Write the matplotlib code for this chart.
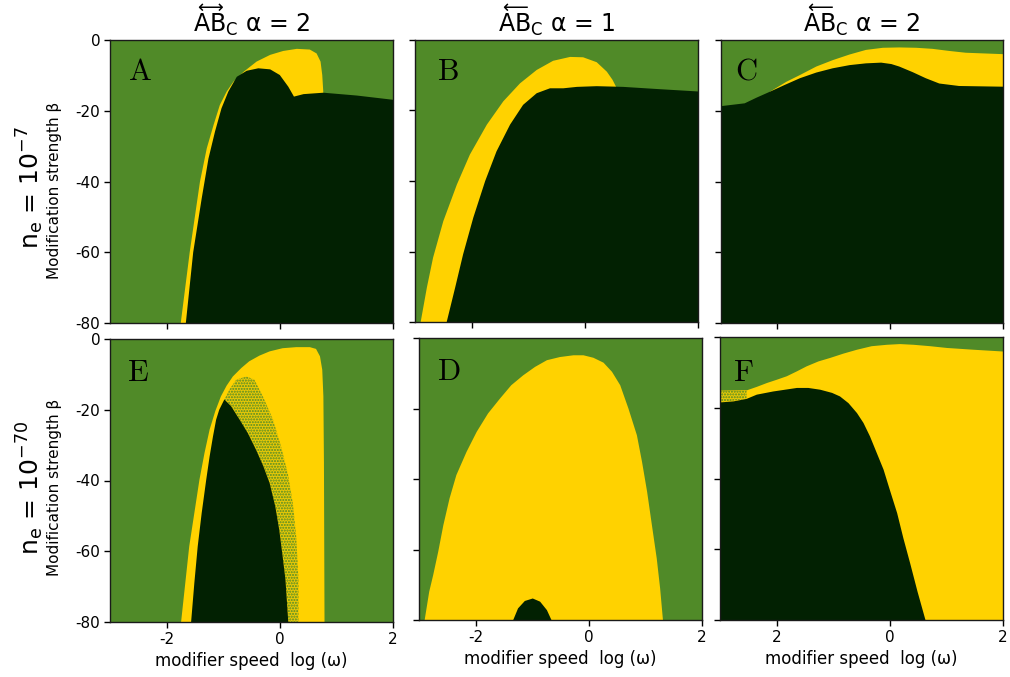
import matplotlib
matplotlib.use("Agg")
import matplotlib.pyplot as plt
from matplotlib.transforms import IdentityTransform

plt.rcParams['font.family'] = ['DejaVu Sans']
plt.rcParams['mathtext.fontset'] = 'dejavusans'
plt.rcParams['mathtext.default'] = 'regular'
plt.rcParams['axes.unicode_minus'] = False
plt.rcParams['hatch.linewidth'] = 1.0

GREEN = "#508a28"
YELLOW = "#ffd200"
DARK = "#022102"

# column titles / row labels
col_titles = ["AB$_C$ α = 2", "AB$_C$ α = 1", "AB$_C$ α = 2"]
col_arrows = [r"$\longleftrightarrow$", r"$\longleftarrow$", r"$\longleftarrow$"]
row_labels = ["$n_e$ = $10^{-7}$", "$n_e$ = $10^{-70}$"]
xticks = [-2, 0, 2]
xticklabels = ["-2", "0", "2"]
xticklabels_right = ["2", "0", "2"]
yticks = [0, -20, -40, -60, -80]

# ---- panel A (n_e=1e-7, <-> alpha=2)
a_yel_x = [-1.75, -1.59, -1.41, -1.29, -1.17, -1.06, -0.94, -0.82, -0.64, -0.41, -0.17, 0.06,
           0.30, 0.53, 0.65, 0.72, 0.75, 0.77, 0.77]
a_yel_y = [-80, -59.8, -40.0, -30.6, -24.0, -18.4, -14.6, -11.8, -9.0, -6.1, -4.2, -3.1,
           -2.5, -2.7, -3.8, -6.1, -9.9, -15.1, -80]
a_dark_x = [-1.66, -1.53, -1.38, -1.26, -1.145, -1.03, -0.91, -0.76, -0.585, -0.38, -0.17, 0.0,
            0.15, 0.25, 0.42, 0.77, 1.36, 2.0, 2.0]
a_dark_y = [-80, -60, -44.8, -33.5, -25.9, -19.3, -14.6, -10.4, -8.7, -8.0, -8.3, -9.9,
            -13.2, -16.0, -15.3, -14.9, -15.7, -16.9, -80]

# ---- panel B (n_e=1e-7, <- alpha=1)
b_yel_x = [-2.9, -2.79, -2.68, -2.5, -2.26, -2.03, -1.73, -1.44, -1.145, -0.85, -0.56, -0.26,
           -0.03, 0.21, 0.39, 0.49, 0.55, 0.55]
b_yel_y = [-80, -70.2, -61.7, -51.4, -41.0, -32.5, -24.0, -17.4, -12.3, -8.5, -5.9, -4.8,
           -4.9, -6.3, -9.0, -11.3, -13.2, -80]
b_dark_x = [-2.44, -2.29, -2.15, -1.97, -1.76, -1.56, -1.32, -1.09, -0.85, -0.615, -0.38, -0.14,
            0.21, 0.68, 1.27, 2.0, 2.0]
b_dark_y = [-80, -70.2, -60.8, -50.4, -40.0, -31.6, -24.0, -18.4, -15.1, -13.7, -13.7, -13.3,
            -13.1, -13.3, -13.9, -14.6, -80]

# ---- panel C (n_e=1e-7, <- alpha=2)
c_yel_x = [-2.13, -1.84, -1.6, -1.31, -1.02, -0.72, -0.43, -0.13, 0.16, 0.46, 0.75, 1.05, 1.34,
           2.0, 2.0, -2.13]
c_yel_y = [-14.6, -11.8, -9.9, -7.5, -5.7, -4.1, -2.8, -2.2, -2.1, -2.2, -2.5, -3.1, -3.6,
           -4.0, -80, -80]
c_dark_x = [-3.0, -2.58, -2.37, -2.13, -1.87, -1.6, -1.31, -1.02, -0.72, -0.43, -0.16, 0.02, 0.16,
            0.4, 0.63, 0.87, 1.22, 2.0, 2.0, -3.0]
c_dark_y = [-18.7, -17.9, -16.3, -14.6, -12.7, -10.8, -9.2, -8.0, -7.1, -6.6, -6.4, -6.8, -7.5,
            -9.1, -10.8, -12.3, -13.0, -13.2, -80, -80]

# ---- panel E (n_e=1e-70, <-> alpha=2)
e_yel_x = [-1.744, -1.67, -1.6, -1.51, -1.42, -1.33, -1.24, -1.14, -1.04, -0.94, -0.83, -0.68,
           -0.54, -0.36, -0.18, 0.05, 0.29, 0.53, 0.64, 0.71, 0.75, 0.77, 0.78, 0.79]
e_yel_y = [-80, -69.0, -58.6, -49.2, -39.8, -32.2, -25.6, -20.4, -16.2, -13.2, -10.6, -8.2,
           -6.3, -4.7, -3.5, -2.6, -2.3, -2.3, -2.8, -4.9, -8.7, -16.2, -35.0, -80]
e_mix_x = [-0.98, -0.89, -0.77, -0.59, -0.45, -0.30, -0.12, 0.02, 0.14, 0.23, 0.29, 0.33, 0.33,
           0.15, 0.10, 0.05, -0.01, -0.08, -0.18, -0.29, -0.42, -0.565, -0.71, -0.86]
e_mix_y = [-17.1, -14.3, -11.5, -10.6, -11.5, -16.2, -22.8, -30.3, -37.9, -46.4, -55.8, -68.0, -80,
           -80, -68.0, -61.4, -53.9, -47.3, -40.7, -36.0, -31.3, -26.6, -22.8, -19.0]
e_dark_x = [-1.567, -1.51, -1.45, -1.38, -1.30, -1.24, -1.18, -1.125, -1.07, -0.98, -0.86, -0.71,
            -0.565, -0.42, -0.29, -0.18, -0.08, -0.01, 0.05, 0.10, 0.15]
e_dark_y = [-80, -69.0, -58.6, -49.2, -39.8, -33.2, -27.5, -22.8, -20.0, -17.1, -19.0, -22.8,
            -26.6, -31.3, -36.0, -40.7, -47.3, -53.9, -61.4, -68.0, -80]

# ---- panel D (n_e=1e-70, <- alpha=1)
d_yel_x = [-2.9, -2.82, -2.75, -2.66, -2.57, -2.46, -2.34, -2.16, -1.98, -1.78, -1.57, -1.37,
           -1.16, -0.95, -0.74, -0.51, -0.27, -0.095, 0.08, 0.26, 0.41, 0.555, 0.70, 0.85, 0.94,
           1.03, 1.115, 1.2, 1.26, 1.31]
d_yel_y = [-80, -72.0, -67.3, -60.6, -53.1, -45.5, -38.9, -32.3, -26.6, -21.4, -17.2, -13.4,
           -10.6, -8.2, -6.3, -5.4, -4.9, -4.9, -5.6, -7.0, -9.6, -13.4, -20.0, -27.6, -35.1,
           -43.6, -53.1, -62.5, -71.0, -80]
d_dark_x = [-1.335, -1.25, -1.13, -0.99, -0.86, -0.74, -0.66]
d_dark_y = [-80, -76.7, -74.6, -73.9, -74.8, -77.2, -80]

# ---- panel F (n_e=1e-70, <- alpha=2)
f_yel_x = [-3.0, -2.53, -2.35, -2.17, -2.0, -1.82, -1.64, -1.47, -1.26, -1.05, -0.82, -0.58,
           -0.32, -0.05, 0.18, 0.42, 0.715, 1.01, 1.48, 2.0, 2.0, -3.0]
f_yel_y = [-15.2, -15.1, -14.1, -13.0, -12.1, -11.1, -9.7, -8.3, -6.9, -5.9, -4.7, -3.6,
           -2.6, -2.2, -2.0, -2.2, -2.6, -3.1, -3.6, -4.1, -80, -80]
f_mix_x = [-3.0, -2.53, -2.53, -3.0]
f_mix_y = [-15.2, -15.1, -17.5, -18.5]
f_dark_x = [-3.0, -2.76, -2.53, -2.35, -2.06, -1.64, -1.44, -1.23, -1.02, -0.88, -0.73, -0.58,
            -0.465, -0.35, -0.23, -0.11, 0.0, 0.13, 0.24, 0.36, 0.49, 0.63, -3.0]
f_dark_y = [-18.5, -18.2, -17.5, -16.3, -15.4, -14.4, -14.4, -14.9, -15.8, -16.8, -18.7, -21.5,
            -24.3, -28.1, -32.8, -37.5, -43.2, -49.8, -56.9, -64.0, -72.0, -80, -80]

W, H = 1010, 677
fig = plt.figure(figsize=(W / 100, H / 100), dpi=100)


def px_axes(left, bottom, w, h):
    return fig.add_axes([left / W, 1 - bottom / H, w / W, h / H])


axA = px_axes(110, 323, 283, 283)
axB = px_axes(415, 322, 283, 282)
axC = px_axes(721, 323, 282, 283)
axE = px_axes(110, 622, 283, 283)
axD = px_axes(419, 620, 283, 282)
axF = px_axes(720, 620, 283, 283)

panels = [
    (axA, "A", [(a_yel_x, a_yel_y, YELLOW), (a_dark_x, a_dark_y, DARK)], None, (0.064, 0.94)),
    (axB, "B", [(b_yel_x, b_yel_y, YELLOW), (b_dark_x, b_dark_y, DARK)], None, (0.077, 0.94)),
    (axC, "C", [(c_yel_x, c_yel_y, YELLOW), (c_dark_x, c_dark_y, DARK)], None, (0.05, 0.94)),
    (axE, "E", [(e_yel_x, e_yel_y, YELLOW), (e_dark_x, e_dark_y, DARK)], (e_mix_x, e_mix_y), (0.059, 0.932)),
    (axD, "D", [(d_yel_x, d_yel_y, YELLOW), (d_dark_x, d_dark_y, DARK)], None, (0.063, 0.934)),
    (axF, "F", [(f_yel_x, f_yel_y, YELLOW), (f_dark_x, f_dark_y, DARK)], (f_mix_x, f_mix_y), (0.047, 0.925)),
]

for ax, letter, layers, mix, pos in panels:
    ax.set_facecolor(GREEN)
    for i, (xs, ys, col) in enumerate(layers):
        ax.fill(xs, ys, color=col, linewidth=0, zorder=1 + 2 * i)
    if mix is not None:
        ax.fill(mix[0], mix[1], facecolor="#e8c806", edgecolor=GREEN, hatch='......',
                linewidth=0, zorder=2)
    ax.set_xlim(-3, 2)
    ax.set_ylim(-80, 0)
    ax.set_xticks(xticks)
    ax.set_yticks(yticks)
    ax.tick_params(direction='out', length=4, width=1, labelsize=11, pad=3)
    for s in ax.spines.values():
        s.set_linewidth(1)
        s.set_color('#1a1a1a')
        s.set_zorder(5)
    ax.text(pos[0], pos[1], r"$\mathrm{" + letter + "}$", transform=ax.transAxes,
            ha='left', va='top', fontsize=22, math_fontfamily='cm', zorder=6)

for ax in [axA, axB, axC]:
    ax.tick_params(labelbottom=False)
for ax in [axB, axC, axD, axF]:
    ax.tick_params(labelleft=False)
for ax in [axE, axD]:
    ax.set_xticklabels(xticklabels)
axF.set_xticklabels(xticklabels_right)
for ax in [axE, axD, axF]:
    ax.set_xlabel("modifier speed  log (ω)", fontsize=12, labelpad=4)

for ax, t in zip([axA, axB, axC], col_titles):
    ax.set_title(t, fontsize=17, pad=6)

# row labels
for yc, lab in zip([188, 488], row_labels):
    fig.text(30 / W, 1 - yc / H, lab, rotation=90, ha='center', va='center', fontsize=18)
for yc in [190, 487]:
    fig.text(55 / W, 1 - yc / H, "Modification strength β", rotation=90,
             ha='center', va='center', fontsize=11)

# over-arrows on the "AB" part of each column title
fig.canvas.draw()
r = fig.canvas.get_renderer()
for ax, arr in zip([axA, axB, axC], col_arrows):
    bb = ax.title.get_window_extent(r)
    tmp = fig.text(0, 0, "AB", fontsize=17)
    wab = tmp.get_window_extent(r).width
    tmp.remove()
    fig.text(bb.x0 + wab / 2, H - 12, arr, transform=IdentityTransform(),
             ha='center', va='baseline', fontsize=13)

fig.savefig("out.png", dpi=100)
plt.close(fig)
